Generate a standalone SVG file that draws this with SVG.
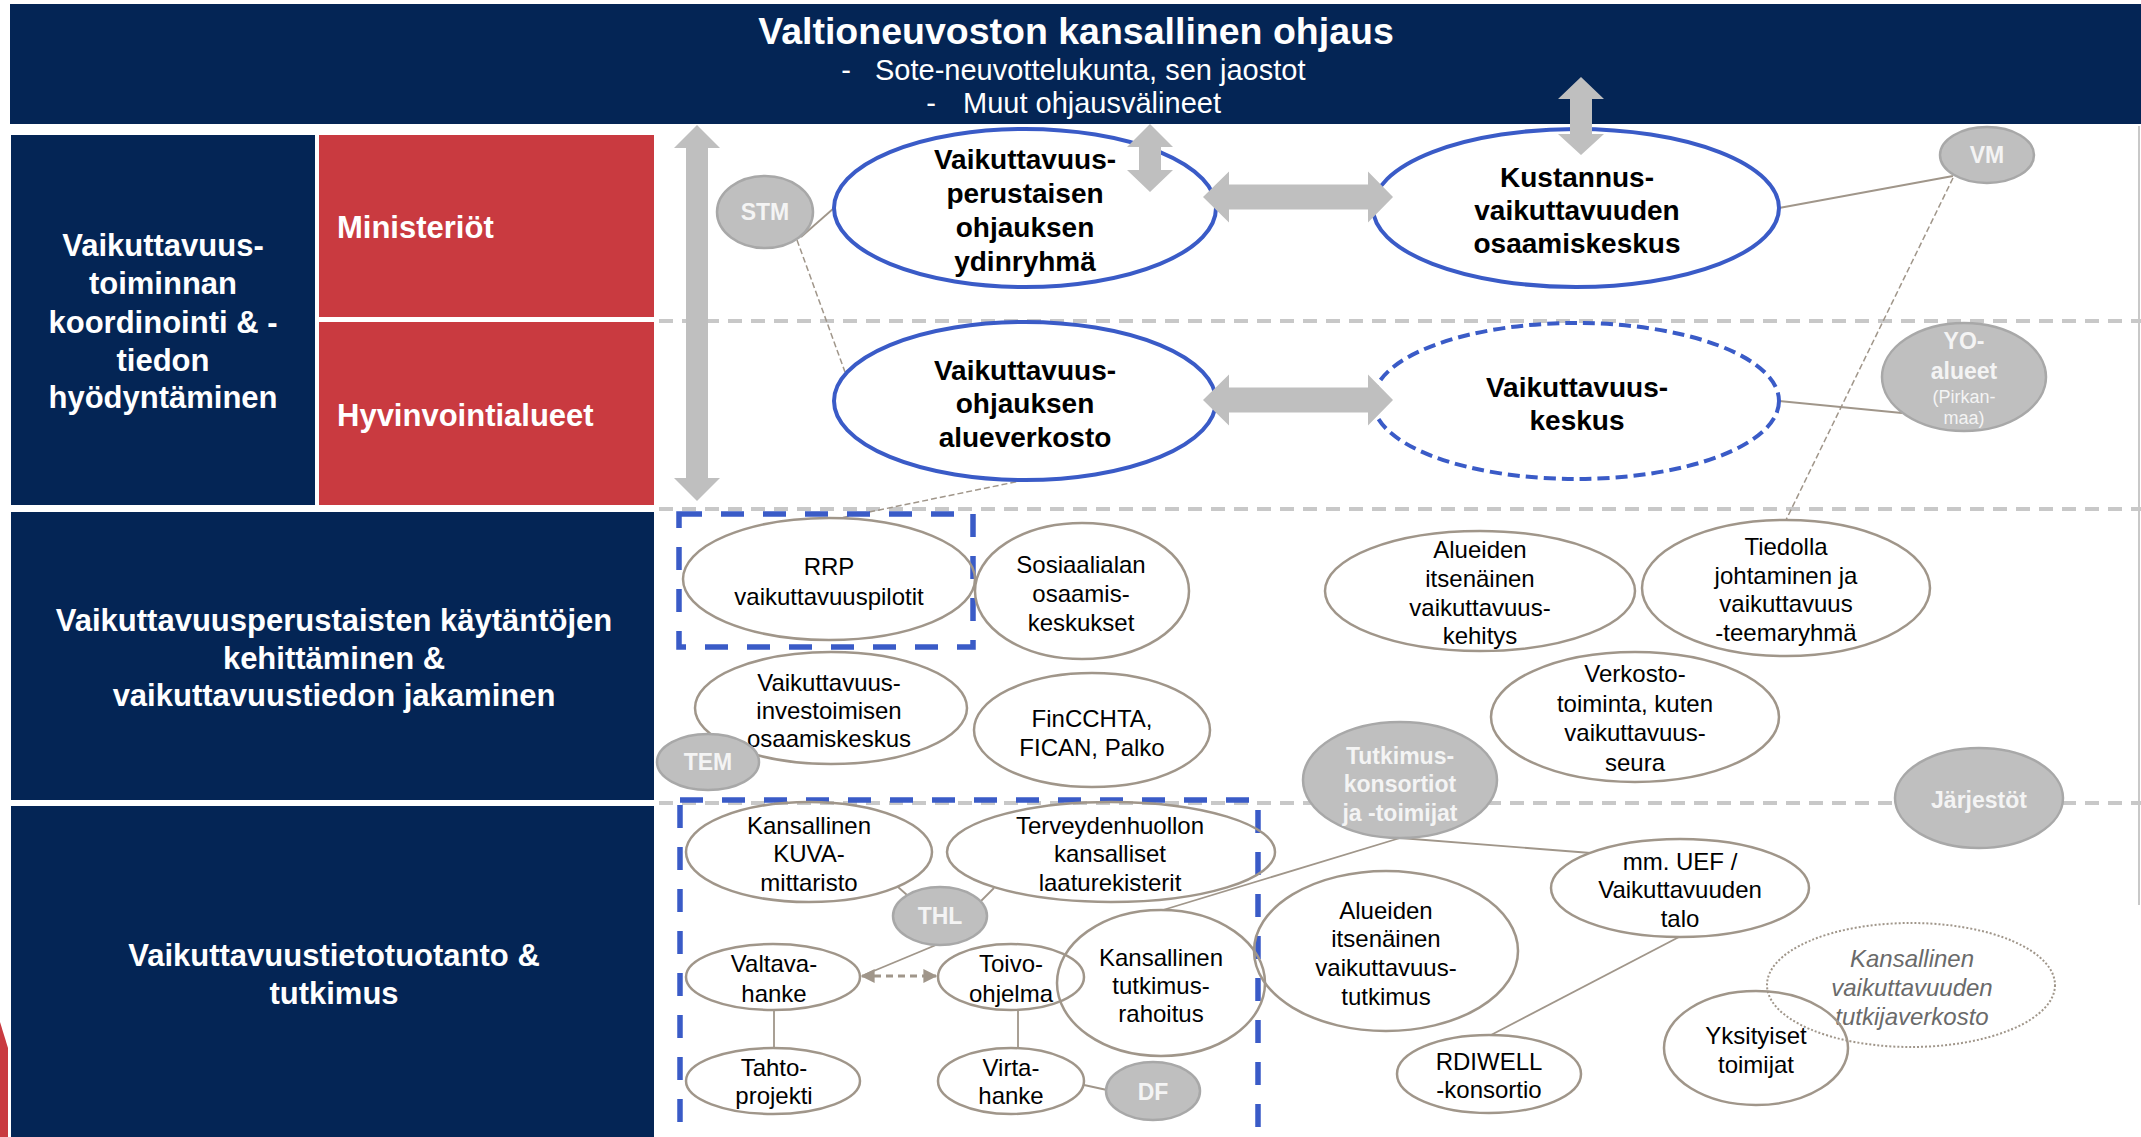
<svg xmlns="http://www.w3.org/2000/svg" width="2141" height="1137" viewBox="0 0 2141 1137">
<style>
text{font-family:"Liberation Sans",Arial,sans-serif}
.blk{fill:#042555}
.red{fill:#c93a40}
.hw{fill:#fff;font-weight:bold}
.tw{fill:#fff}
.sep{stroke:#c8c8c8;stroke-width:4;stroke-dasharray:14 9;fill:none}
.bluebox{fill:none;stroke:#3a5bc7;stroke-width:5.5;stroke-dasharray:23 19}
.bigell{fill:#fff;stroke:#3a5bc7;stroke-width:4}
.bigdash{fill:#fff;stroke:#3a5bc7;stroke-width:4;stroke-dasharray:12 6}
.bt{font-size:28px;font-weight:bold;fill:#000;text-anchor:middle}
.ell{fill:none;stroke:#a0968a;stroke-width:2.5}
.dot{fill:none;stroke:#a0968a;stroke-width:2;stroke-dasharray:2 2}
.nt{font-size:24px;fill:#000;text-anchor:middle}
.it{font-size:24px;fill:#6a6a6a;font-style:italic;text-anchor:middle}
.gray{fill:#bfbfbf;stroke:#a8a8a8;stroke-width:2.5}
.gt{font-size:23px;font-weight:bold;fill:#f4f4f4;text-anchor:middle}
.ln{stroke:#a0968a;stroke-width:1.8;fill:none}
.lnd{stroke:#a0968a;stroke-width:1.5;fill:none;stroke-dasharray:6 3}
.garrow{fill:#bfbfbf}
</style>
<defs>
<marker id="ah" viewBox="0 0 10 10" refX="9" refY="5" markerWidth="15" markerHeight="14" markerUnits="userSpaceOnUse" orient="auto-start-reverse">
<path d="M0,0 L10,5 L0,10 Z" fill="#a0968a"/>
</marker>
</defs>
<rect width="2141" height="1137" fill="#fff"/>

<g id="banner">
<rect x="10" y="4" width="2131" height="120" class="blk"/>
<text x="1076" y="44" font-size="37.5" class="hw" text-anchor="middle">Valtioneuvoston kansallinen ohjaus</text>
<text x="846" y="80" font-size="29" class="tw" text-anchor="middle">-</text>
<text x="875" y="80" font-size="29" class="tw">Sote-neuvottelukunta, sen jaostot</text>
<text x="931" y="113" font-size="29" class="tw" text-anchor="middle">-</text>
<text x="963" y="113" font-size="29" class="tw">Muut ohjausvälineet</text>
</g>

<g id="row-coordination">
<rect x="11" y="135" width="304" height="370" class="blk"/>
<text class="hw" font-size="31" text-anchor="middle"><tspan x="163" y="256">Vaikuttavuus-</tspan><tspan x="163" y="294">toiminnan</tspan><tspan x="163" y="333">koordinointi &amp; -</tspan><tspan x="163" y="371">tiedon</tspan><tspan x="163" y="408">hyödyntäminen</tspan></text>
</g>
<g id="row-ministeriot">
<rect x="319" y="135" width="335" height="182" class="red"/>
<text x="337" y="238" font-size="31" class="hw">Ministeriöt</text>
</g>
<g id="row-hyvinvointialueet">
<rect x="319" y="322" width="335" height="183" class="red"/>
<text x="337" y="426" font-size="31" class="hw">Hyvinvointialueet</text>
</g>
<g id="row-kaytannot">
<rect x="11" y="512" width="643" height="288" class="blk"/>
<text class="hw" font-size="31" text-anchor="middle"><tspan x="334" y="631">Vaikuttavuusperustaisten käytäntöjen</tspan><tspan x="334" y="669">kehittäminen &amp;</tspan><tspan x="334" y="706">vaikuttavuustiedon jakaminen</tspan></text>
</g>
<g id="row-tutkimus">
<rect x="11" y="806" width="643" height="331" class="blk"/>
<text class="hw" font-size="31" text-anchor="middle"><tspan x="334" y="966">Vaikuttavuustietotuotanto &amp;</tspan><tspan x="334" y="1004">tutkimus</tspan></text>
<polygon points="0,1022 8,1048 8,1137 0,1137" class="red"/>
</g>

<g id="separators">
<line x1="659" y1="321" x2="2141" y2="321" class="sep"/>
<line x1="659" y1="509" x2="2141" y2="509" class="sep"/>
<line x1="659" y1="803" x2="2141" y2="803" class="sep"/>
<line x1="2139" y1="126" x2="2139" y2="905" stroke="#c8c8c8" stroke-width="2"/>
</g>

<g id="connectors">
<line x1="801" y1="237" x2="834" y2="208" class="ln"/>
<line x1="797" y1="240" x2="845" y2="372" class="lnd"/>
<line x1="1025" y1="480" x2="840" y2="518" class="lnd"/>
<line x1="1779" y1="208" x2="1953" y2="176" class="ln"/>
<line x1="1953" y1="178" x2="1786" y2="520" class="lnd"/>
<line x1="1779" y1="401" x2="1902" y2="413" class="ln"/>
<line x1="898" y1="887" x2="907" y2="895" class="ln"/>
<line x1="994" y1="888" x2="980" y2="902" class="ln"/>
<line x1="936" y1="945" x2="864" y2="975" class="ln"/>
<line x1="862" y1="976" x2="936" y2="976" stroke="#a0968a" stroke-width="3" stroke-dasharray="7 5" marker-start="url(#ah)" marker-end="url(#ah)"/>
<line x1="774" y1="1010" x2="774" y2="1048" class="ln"/>
<line x1="1018" y1="1010" x2="1018" y2="1048" class="ln"/>
<line x1="1084" y1="1085" x2="1107" y2="1090" class="ln"/>
<line x1="1163" y1="910" x2="1400" y2="838" class="ln"/>
<line x1="1400" y1="838" x2="1591" y2="853" class="ln"/>
<line x1="1679" y1="937" x2="1491" y2="1035" class="ln"/>
</g>

<g id="box-rrp">
<rect x="679" y="514" width="294" height="133" class="bluebox"/>
</g>
<g id="box-thl">
<rect x="680" y="800" width="578" height="360" class="bluebox"/>
</g>

<g id="node-ydinryhma">
<ellipse cx="1025" cy="208" rx="191" ry="79" class="bigell"/>
<text class="bt"><tspan x="1025" y="169">Vaikuttavuus-</tspan><tspan x="1025" y="203">perustaisen</tspan><tspan x="1025" y="237">ohjauksen</tspan><tspan x="1025" y="271">ydinryhmä</tspan></text>
</g>
<g id="node-kustannus">
<ellipse cx="1576" cy="208" rx="203" ry="79" class="bigell"/>
<text class="bt"><tspan x="1577" y="187">Kustannus-</tspan><tspan x="1577" y="220">vaikuttavuuden</tspan><tspan x="1577" y="253">osaamiskeskus</tspan></text>
</g>
<g id="node-alueverkosto">
<ellipse cx="1025" cy="401" rx="191" ry="79" class="bigell"/>
<text class="bt"><tspan x="1025" y="380">Vaikuttavuus-</tspan><tspan x="1025" y="413">ohjauksen</tspan><tspan x="1025" y="447">alueverkosto</tspan></text>
</g>
<g id="node-vaikuttavuuskeskus">
<ellipse cx="1576" cy="401" rx="203" ry="78" class="bigdash"/>
<text class="bt"><tspan x="1577" y="397">Vaikuttavuus-</tspan><tspan x="1577" y="430">keskus</tspan></text>
</g>

<g id="node-stm">
<ellipse cx="765" cy="212" rx="48" ry="36" class="gray"/>
<text x="765" y="220" class="gt">STM</text>
</g>
<g id="node-vm">
<ellipse cx="1987" cy="155" rx="47" ry="28" class="gray"/>
<text x="1987" y="163" class="gt">VM</text>
</g>
<g id="node-yo">
<ellipse cx="1964" cy="377" rx="82" ry="54" class="gray"/>
<text x="1964" y="349" class="gt" font-size="24">YO-</text>
<text x="1964" y="379" class="gt" font-size="24">alueet</text>
<text x="1964" y="403" font-size="18" fill="#f4f4f4" text-anchor="middle">(Pirkan-</text>
<text x="1964" y="424" font-size="18" fill="#f4f4f4" text-anchor="middle">maa)</text>
</g>

<g id="node-rrp">
<ellipse cx="829" cy="579" rx="146" ry="61" class="ell"/>
<text class="nt"><tspan x="829" y="575">RRP</tspan><tspan x="829" y="605">vaikuttavuuspilotit</tspan></text>
</g>
<g id="node-sosiaaliala">
<ellipse cx="1082" cy="591" rx="107" ry="68" class="ell"/>
<text class="nt"><tspan x="1081" y="573">Sosiaalialan</tspan><tspan x="1081" y="602">osaamis-</tspan><tspan x="1081" y="631">keskukset</tspan></text>
</g>
<g id="node-investoiminen">
<ellipse cx="831" cy="708" rx="136" ry="56" class="ell"/>
<text class="nt"><tspan x="829" y="691">Vaikuttavuus-</tspan><tspan x="829" y="719">investoimisen</tspan><tspan x="829" y="747">osaamiskeskus</tspan></text>
</g>
<g id="node-tem">
<ellipse cx="708" cy="762" rx="51" ry="28" class="gray"/>
<text x="708" y="770" class="gt">TEM</text>
</g>
<g id="node-finccta">
<ellipse cx="1092" cy="730" rx="118" ry="57" class="ell"/>
<text class="nt"><tspan x="1092" y="727">FinCCHTA,</tspan><tspan x="1092" y="756">FICAN, Palko</tspan></text>
</g>
<g id="node-alueiden-kehitys">
<ellipse cx="1480" cy="591" rx="155" ry="60" class="ell"/>
<text class="nt"><tspan x="1480" y="558">Alueiden</tspan><tspan x="1480" y="587">itsenäinen</tspan><tspan x="1480" y="616">vaikuttavuus-</tspan><tspan x="1480" y="644">kehitys</tspan></text>
</g>
<g id="node-tiedolla">
<ellipse cx="1786" cy="588" rx="144" ry="68" class="ell"/>
<text class="nt"><tspan x="1786" y="555">Tiedolla</tspan><tspan x="1786" y="584">johtaminen ja</tspan><tspan x="1786" y="612">vaikuttavuus</tspan><tspan x="1786" y="641">-teemaryhmä</tspan></text>
</g>
<g id="node-verkosto">
<ellipse cx="1635" cy="717" rx="144" ry="65" class="ell"/>
<text class="nt"><tspan x="1635" y="682">Verkosto-</tspan><tspan x="1635" y="712">toiminta, kuten</tspan><tspan x="1635" y="741">vaikuttavuus-</tspan><tspan x="1635" y="771">seura</tspan></text>
</g>
<g id="node-tutkimuskonsortiot">
<ellipse cx="1400" cy="780" rx="97" ry="58" class="gray"/>
<text class="gt" font-size="24"><tspan x="1400" y="764">Tutkimus-</tspan><tspan x="1400" y="792">konsortiot</tspan><tspan x="1400" y="821">ja -toimijat</tspan></text>
</g>
<g id="node-jarjestot">
<ellipse cx="1979" cy="798" rx="84" ry="50" class="gray"/>
<text x="1979" y="808" class="gt" font-size="24">Järjestöt</text>
</g>

<g id="node-kuva">
<ellipse cx="809" cy="852" rx="123" ry="50" class="ell"/>
<text class="nt"><tspan x="809" y="834">Kansallinen</tspan><tspan x="809" y="862">KUVA-</tspan><tspan x="809" y="891">mittaristo</tspan></text>
</g>
<g id="node-laaturekisterit">
<ellipse cx="1111" cy="852" rx="164" ry="50" class="ell"/>
<text class="nt"><tspan x="1110" y="834">Terveydenhuollon</tspan><tspan x="1110" y="862">kansalliset</tspan><tspan x="1110" y="891">laaturekisterit</tspan></text>
</g>
<g id="node-thl">
<ellipse cx="940" cy="916" rx="47" ry="29" class="gray"/>
<text x="940" y="924" class="gt">THL</text>
</g>
<g id="node-valtava">
<ellipse cx="773" cy="977" rx="87" ry="33" class="ell"/>
<text class="nt"><tspan x="774" y="972">Valtava-</tspan><tspan x="774" y="1002">hanke</tspan></text>
</g>
<g id="node-toivo">
<ellipse cx="1011" cy="977" rx="73" ry="33" class="ell"/>
<text class="nt"><tspan x="1011" y="972">Toivo-</tspan><tspan x="1011" y="1002">ohjelma</tspan></text>
</g>
<g id="node-tutkimusrahoitus">
<ellipse cx="1161" cy="983" rx="104" ry="73" class="ell"/>
<text class="nt"><tspan x="1161" y="966">Kansallinen</tspan><tspan x="1161" y="994">tutkimus-</tspan><tspan x="1161" y="1022">rahoitus</tspan></text>
</g>
<g id="node-tahto">
<ellipse cx="773" cy="1081" rx="87" ry="33" class="ell"/>
<text class="nt"><tspan x="774" y="1076">Tahto-</tspan><tspan x="774" y="1104">projekti</tspan></text>
</g>
<g id="node-virta">
<ellipse cx="1011" cy="1081" rx="73" ry="33" class="ell"/>
<text class="nt"><tspan x="1011" y="1076">Virta-</tspan><tspan x="1011" y="1104">hanke</tspan></text>
</g>
<g id="node-df">
<ellipse cx="1153" cy="1091" rx="47" ry="29" class="gray"/>
<text x="1153" y="1100" class="gt">DF</text>
</g>
<g id="node-alueiden-tutkimus">
<ellipse cx="1386" cy="951" rx="132" ry="80" class="ell"/>
<text class="nt"><tspan x="1386" y="919">Alueiden</tspan><tspan x="1386" y="947">itsenäinen</tspan><tspan x="1386" y="976">vaikuttavuus-</tspan><tspan x="1386" y="1005">tutkimus</tspan></text>
</g>
<g id="node-uef">
<ellipse cx="1680" cy="888" rx="129" ry="49" class="ell"/>
<text class="nt"><tspan x="1680" y="870">mm. UEF /</tspan><tspan x="1680" y="898">Vaikuttavuuden</tspan><tspan x="1680" y="927">talo</tspan></text>
</g>
<g id="node-rdiwell">
<ellipse cx="1489" cy="1074" rx="92" ry="39" class="ell"/>
<text class="nt"><tspan x="1489" y="1070">RDIWELL</tspan><tspan x="1489" y="1098">-konsortio</tspan></text>
</g>
<g id="node-tutkijaverkosto">
<ellipse cx="1911" cy="985" rx="144" ry="62" class="dot"/>
<text class="it"><tspan x="1912" y="967">Kansallinen</tspan><tspan x="1912" y="996">vaikuttavuuden</tspan><tspan x="1912" y="1025">tutkijaverkosto</tspan></text>
</g>
<g id="node-yksityiset">
<ellipse cx="1756" cy="1048" rx="92" ry="57" class="ell"/>
<text class="nt"><tspan x="1756" y="1044">Yksityiset</tspan><tspan x="1756" y="1073">toimijat</tspan></text>
</g>

<g id="big-arrows">
<polygon class="garrow" points="697,125 720,148 708,148 708,478 720,478 697,501 674,478 686,478 686,148 674,148"/>
<polygon class="garrow" points="1150,124 1173,147 1161,147 1161,170 1173,170 1150,192 1127,170 1139,170 1139,147 1127,147"/>
<polygon class="garrow" points="1581,77 1604,99 1592,99 1592,134 1604,134 1581,155 1558,134 1570,134 1570,99 1558,99"/>
<polygon class="garrow" points="1203,197 1229,171.5 1229,184.5 1368,184.5 1368,171.5 1393,197 1368,222.5 1368,209.5 1229,209.5 1229,222.5"/>
<polygon class="garrow" points="1203,400 1229,374.5 1229,387.5 1368,387.5 1368,374.5 1393,400 1368,425.5 1368,412.5 1229,412.5 1229,425.5"/>
</g>
</svg>
